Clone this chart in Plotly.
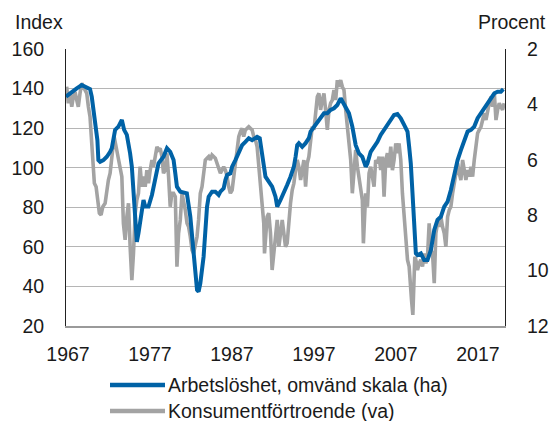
import plotly.graph_objects as go

# Unemployment, inverted scale (right axis, percent)
unemp_year = [1966.76, 1967.46, 1968.07, 1968.68, 1969.08, 1969.69, 1969.90, 1970.31, 1970.59, 1970.71,
              1970.92, 1971.32, 1971.74, 1972.14, 1972.35, 1972.75, 1973.15, 1973.57, 1973.85, 1974.18,
              1974.38, 1974.58, 1974.79, 1974.99, 1975.20, 1975.40, 1975.60, 1975.80, 1976.00, 1976.21,
              1976.42, 1976.82, 1977.24, 1977.64, 1978.04, 1978.65, 1979.07, 1979.47, 1979.88, 1980.09,
              1980.29, 1980.70, 1981.50, 1981.92, 1982.32, 1982.74, 1982.93, 1983.14, 1983.54, 1983.75,
              1983.96, 1984.16, 1984.57, 1984.97, 1985.38, 1985.59, 1985.99, 1986.20, 1986.41, 1986.81,
              1987.02, 1987.42, 1987.83, 1988.24, 1988.64, 1989.05, 1989.46, 1990.07, 1990.39, 1990.68,
              1991.09, 1991.49, 1991.90, 1992.31, 1992.52, 1992.92, 1993.33, 1993.73, 1994.14, 1994.55,
              1994.76, 1994.96, 1995.16, 1995.57, 1995.98, 1996.38, 1996.59, 1997.00, 1997.41, 1997.81,
              1998.22, 1998.63, 1999.03, 1999.44, 1999.85, 2000.26, 2000.46, 2000.87, 2001.27, 2001.68,
              2002.09, 2002.49, 2002.90, 2003.31, 2003.52, 2003.92, 2004.33, 2004.74, 2005.14, 2005.55,
              2005.96, 2006.37, 2006.77, 2007.18, 2007.59, 2008.00, 2008.41, 2008.61, 2008.81, 2009.02,
              2009.22, 2009.43, 2009.63, 2010.04, 2010.44, 2010.85, 2011.26, 2011.67, 2012.07, 2012.48,
              2012.89, 2013.30, 2013.70, 2014.11, 2014.52, 2014.92, 2015.33, 2015.74, 2016.15, 2016.55,
              2016.96, 2017.37, 2017.77, 2018.18, 2018.59, 2019.00, 2019.40, 2019.80, 2020.10]
unemp_pct = [3.72, 3.54, 3.42, 3.30, 3.36, 3.45, 3.72, 4.56, 5.29, 6.01,
             6.07, 6.01, 5.89, 5.71, 5.58, 4.92, 4.80, 4.56, 4.92, 5.10,
             5.40, 5.77, 6.25, 7.21, 8.17, 8.96, 8.65, 8.29, 8.05, 7.45,
             7.69, 7.69, 7.27, 6.73, 6.13, 5.89, 5.58, 5.71, 6.01, 6.49,
             6.97, 7.15, 7.21, 8.05, 9.26, 10.70, 10.76, 10.46, 9.50, 8.42,
             7.69, 7.33, 7.15, 7.15, 7.27, 7.15, 7.03, 6.73, 6.55, 6.49,
             6.25, 6.01, 5.71, 5.47, 5.35, 5.22, 5.29, 5.17, 5.22, 5.77,
             6.61, 6.79, 6.97, 7.33, 7.69, 7.45, 7.21, 6.91, 6.61, 6.25,
             5.89, 5.47, 5.40, 5.53, 5.40, 5.22, 4.98, 4.80, 4.62, 4.44,
             4.32, 4.32, 4.20, 4.14, 4.02, 3.78, 3.90, 4.14, 4.32, 4.80,
             5.47, 5.77, 5.89, 6.25, 6.13, 5.71, 5.53, 5.35, 5.10, 4.92,
             4.74, 4.56, 4.38, 4.35, 4.50, 4.74, 4.98, 5.53, 6.13, 7.21,
             8.17, 9.38, 9.44, 9.38, 9.62, 9.62, 9.26, 8.53, 8.17, 8.05,
             7.69, 7.51, 7.09, 6.49, 6.01, 5.65, 5.29, 4.98, 4.92, 4.80,
             4.50, 4.32, 4.20, 3.96, 3.78, 3.60, 3.54, 3.54, 3.45]

# Consumer confidence (left axis, index)
conf_year = [1966.84, 1967.04, 1967.25, 1967.46, 1967.65, 1967.86, 1968.07, 1968.26, 1968.47, 1968.68,
             1968.87, 1969.29, 1969.49, 1969.69, 1969.90, 1970.10, 1970.22, 1970.43, 1970.59, 1970.83,
             1971.04, 1971.25, 1971.53, 1971.74, 1971.93, 1972.14, 1972.35, 1972.63, 1972.87, 1973.15,
             1973.36, 1973.57, 1973.76, 1973.97, 1974.18, 1974.38, 1974.58, 1974.79, 1974.99, 1975.20,
             1975.40, 1975.60, 1975.80, 1976.00, 1976.21, 1976.42, 1976.62, 1976.82, 1977.03, 1977.24,
             1977.43, 1977.64, 1977.85, 1978.04, 1978.25, 1978.46, 1978.65, 1978.86, 1979.07, 1979.27,
             1979.47, 1979.68, 1979.88, 1980.09, 1980.29, 1980.49, 1980.70, 1980.91, 1981.10, 1981.31,
             1981.52, 1981.71, 1981.92, 1982.13, 1982.32, 1982.53, 1982.74, 1982.93, 1983.14, 1983.35,
             1983.54, 1983.75, 1983.96, 1984.16, 1984.36, 1984.57, 1984.97, 1985.18, 1985.38, 1985.59,
             1985.79, 1985.99, 1986.20, 1986.41, 1986.60, 1986.81, 1987.02, 1987.21, 1987.42, 1987.63,
             1987.83, 1988.03, 1988.24, 1988.43, 1988.64, 1988.85, 1989.05, 1989.25, 1989.46, 1989.66,
             1989.87, 1990.07, 1990.27, 1990.47, 1990.68, 1990.88, 1990.97, 1991.09, 1991.29, 1991.49,
             1991.70, 1991.90, 1992.11, 1992.31, 1992.52, 1992.72, 1992.92, 1993.13, 1993.33, 1993.53,
             1993.73, 1993.94, 1994.14, 1994.35, 1994.55, 1994.76, 1994.96, 1995.16, 1995.37, 1995.57,
             1995.77, 1995.98, 1996.18, 1996.38, 1996.59, 1996.79, 1997.00, 1997.20, 1997.41, 1997.61,
             1997.81, 1998.02, 1998.22, 1998.42, 1998.63, 1998.83, 1999.03, 1999.24, 1999.44, 1999.65,
             1999.85, 2000.05, 2000.26, 2000.46, 2000.66, 2000.87, 2001.08, 2001.27, 2001.48, 2001.68,
             2001.88, 2002.09, 2002.30, 2002.50, 2002.70, 2002.90, 2003.03, 2003.19, 2003.31, 2003.52,
             2003.72, 2003.92, 2004.13, 2004.33, 2004.53, 2004.74, 2004.94, 2005.14, 2005.35, 2005.55,
             2005.76, 2005.96, 2006.16, 2006.37, 2006.57, 2006.77, 2006.98, 2007.18, 2007.38, 2007.59,
             2007.79, 2008.00, 2008.20, 2008.41, 2008.61, 2008.73, 2008.90, 2009.06, 2009.14, 2009.30,
             2009.43, 2009.63, 2009.83, 2010.04, 2010.24, 2010.44, 2010.65, 2010.85, 2011.05, 2011.26,
             2011.46, 2011.67, 2011.87, 2012.07, 2012.27, 2012.48, 2012.68, 2012.89, 2013.09, 2013.30,
             2013.50, 2013.70, 2013.91, 2014.11, 2014.32, 2014.52, 2014.72, 2014.92, 2015.13, 2015.33,
             2015.53, 2015.74, 2015.94, 2016.15, 2016.35, 2016.55, 2016.76, 2016.96, 2017.16, 2017.37,
             2017.57, 2017.77, 2017.98, 2018.18, 2018.38, 2018.59, 2018.79, 2019.00, 2019.20, 2019.40,
             2019.60, 2019.80, 2020.00, 2020.20]
conf_index = [140.9, 132.6, 137.6, 130.8, 135.9, 138.4, 134.2, 130.8, 137.6, 142.7,
              140.9, 137.6, 130.8, 125.8, 112.3, 102.2, 92.1, 90.4, 83.7, 77.0,
              76.1, 80.3, 82.0, 88.7, 93.8, 97.2, 103.9, 115.7, 110.6, 103.9,
              98.8, 95.5, 71.9, 63.5, 75.2, 82.0, 60.1, 43.2, 56.7, 77.0,
              83.7, 87.1, 100.5, 90.4, 95.5, 90.4, 98.8, 92.1, 98.8, 103.9,
              100.5, 105.6, 110.6, 109.0, 109.8, 105.6, 97.2, 98.8, 107.3, 95.5,
              80.3, 87.1, 87.1, 85.4, 50.0, 66.9, 73.6, 87.1, 83.7, 78.6,
              71.9, 70.2, 65.1, 58.4, 56.7, 60.1, 65.1, 73.6, 87.1, 90.4,
              98.8, 103.9, 104.8, 105.6, 103.9, 106.4, 104.8, 102.2, 100.5, 97.2,
              98.8, 100.5, 98.8, 95.5, 90.4, 87.1, 88.7, 97.2, 102.2, 109.0,
              115.7, 118.2, 119.9, 115.7, 119.1, 119.9, 120.7, 119.9, 119.1, 115.7,
              114.0, 110.6, 100.5, 90.4, 82.0, 71.9, 56.7, 63.5, 75.2, 77.0,
              66.9, 48.3, 56.7, 66.9, 73.6, 60.1, 66.9, 73.6, 66.9, 60.1,
              61.8, 73.6, 82.0, 88.7, 92.1, 98.8, 103.9, 100.5, 93.8, 98.8,
              103.9, 90.4, 102.2, 105.6, 114.0, 120.7, 119.1, 129.2, 135.9, 137.6,
              129.2, 134.2, 137.6, 129.2, 119.1, 129.2, 132.6, 134.2, 139.3, 134.2,
              144.3, 140.9, 144.3, 140.9, 139.3, 129.2, 120.7, 110.6, 103.9, 87.1,
              98.8, 109.0, 100.5, 95.5, 90.4, 83.7, 61.8, 77.0, 87.1, 80.3,
              97.2, 100.5, 93.8, 90.4, 103.9, 102.2, 105.6, 98.8, 105.6, 85.4,
              103.9, 107.3, 100.5, 110.6, 98.8, 103.9, 112.3, 107.3, 112.3, 103.9,
              87.1, 77.0, 63.5, 53.4, 50.0, 39.9, 33.1, 25.6, 39.9, 55.0,
              53.4, 48.3, 51.7, 53.4, 50.0, 56.7, 51.7, 55.0, 71.9, 58.4,
              56.7, 41.6, 66.9, 71.9, 70.2, 75.2, 70.2, 66.9, 60.1, 75.2,
              78.6, 80.3, 87.1, 92.1, 95.5, 102.2, 97.2, 93.8, 103.9, 98.8,
              93.8, 98.8, 95.5, 100.5, 95.5, 103.9, 112.3, 117.4, 119.1, 120.7,
              124.1, 127.5, 124.1, 129.2, 132.6, 135.9, 130.8, 137.6, 124.1, 129.2,
              132.6, 130.8, 129.2, 132.6]

year_ticks = [1967, 1977, 1987, 1997, 2007, 2017]
index_ticks = [20, 40, 60, 80, 100, 120, 140, 160]
pct_ticks = [2, 4, 6, 8, 10, 12]

BLUE = "#0062A6"
GREY = "#A3A3A3"
TXT = "#1a1a1a"
FONT = "Liberation Sans, Arial, sans-serif"
FS = 19.5

fig = go.Figure()
fig.add_trace(go.Scatter(x=unemp_year, y=unemp_pct, yaxis="y2", mode="lines",
                         line=dict(color=BLUE, width=4), name="Arbetslöshet, omvänd skala (ha)",
                         showlegend=False))
fig.add_trace(go.Scatter(x=conf_year, y=conf_index, yaxis="y", mode="lines",
                         line=dict(color=GREY, width=3.6), name="Konsumentförtroende (va)",
                         showlegend=False))

# plot area geometry (pixels) for legend placement
L, R, T, B = 66, 505, 49, 326
W, H = R - L, B - T
def px(x):
    return (x - L) / W
def py(y):
    return (B - y) / H

legend_items = [("Arbetslöshet, omvänd skala (ha)", BLUE, 385),
                ("Konsumentförtroende (va)", GREY, 411)]
shapes = []
annotations = []
for label, col, yy in legend_items:
    shapes.append(dict(type="line", xref="paper", yref="paper", x0=px(110), x1=px(165),
                       y0=py(yy), y1=py(yy), line=dict(color=col, width=4.5)))
    annotations.append(dict(text=label, xref="paper", yref="paper", x=px(167), y=py(yy),
                            xanchor="left", yanchor="middle", showarrow=False, borderpad=0,
                            font=dict(size=FS, color=TXT, family=FONT)))
annotations.append(dict(text="Index", xref="paper", yref="paper", x=px(13), y=py(22),
                        xanchor="left", yanchor="middle", showarrow=False,
                        font=dict(size=FS, color=TXT, family=FONT)))
annotations.append(dict(text="Procent", xref="paper", yref="paper", x=px(548), y=py(22),
                        xanchor="right", yanchor="middle", showarrow=False,
                        font=dict(size=FS, color=TXT, family=FONT)))

fig.update_layout(
    width=550, height=421,
    margin=dict(l=L, r=550 - R, t=T, b=421 - B, autoexpand=False),
    paper_bgcolor="white", plot_bgcolor="white",
    font=dict(family=FONT, size=FS, color=TXT),
    showlegend=False,
    xaxis=dict(range=[1966.76, 2020.3], tickvals=year_ticks, ticktext=[str(v) for v in year_ticks],
               showgrid=False, zeroline=False, showline=True, linecolor="#9a9a9a", linewidth=2,
               ticks="outside", ticklen=10, tickcolor="rgba(0,0,0,0)", automargin=False),
    yaxis=dict(range=[20, 160], tickvals=index_ticks, showgrid=True, gridcolor="#b5b5b5", gridwidth=1.3,
               zeroline=False, showline=True, linecolor="#222222", linewidth=1,
               ticks="outside", ticklen=17, tickcolor="rgba(0,0,0,0)", automargin=False),
    yaxis2=dict(range=[12, 2], tickvals=pct_ticks, overlaying="y", side="right", showgrid=False,
                zeroline=False, showline=True, linecolor="#222222", linewidth=1,
                ticks="outside", ticklen=17, tickcolor="rgba(0,0,0,0)", automargin=False),
    shapes=shapes, annotations=annotations,
)

fig.write_html("out.html", config={"displayModeBar": False},
               post_script="document.body.style.margin='0';document.body.style.padding='0';")
